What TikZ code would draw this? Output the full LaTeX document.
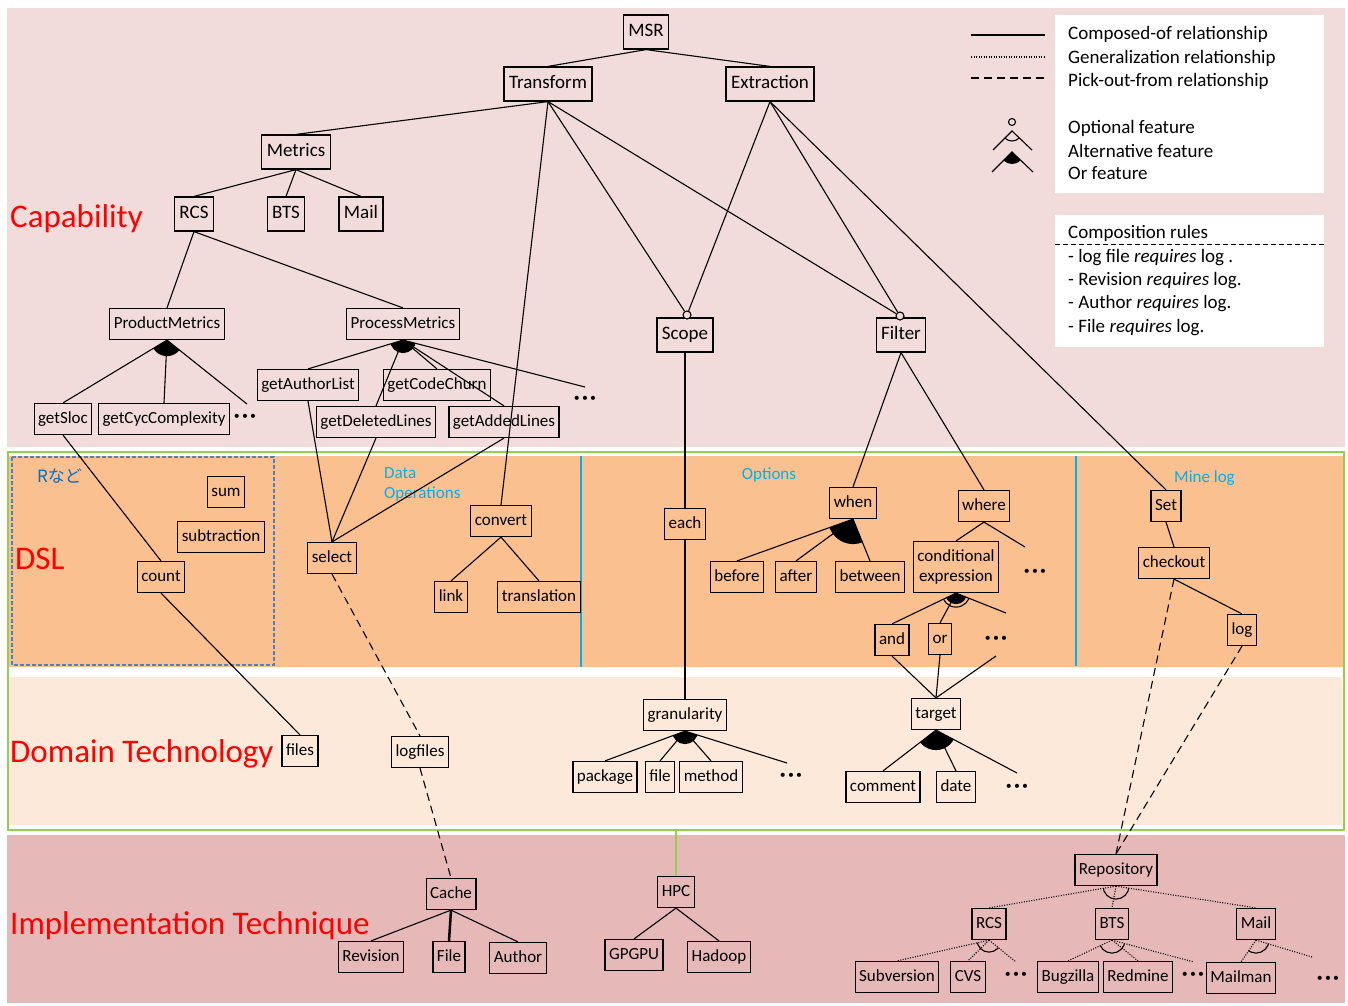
\documentclass[tikz,border=0pt]{standalone}
\usepackage{fontspec}
\setmainfont{Carlito}
\newfontfamily\jpfont{Noto Sans CJK JP}
\definecolor{capbg}{RGB}{242,220,219}
\definecolor{dslbg}{RGB}{250,192,144}
\definecolor{dombg}{RGB}{253,233,217}
\definecolor{impbg}{RGB}{230,185,184}
\definecolor{grn}{RGB}{146,208,80}
\definecolor{cyanc}{RGB}{0,176,240}
\definecolor{bluedash}{RGB}{79,129,189}
\definecolor{rblue}{RGB}{0,112,192}
\newcommand\orsector[4]{\begin{scope}\clip (#1) -- (#2) -- (#3) -- cycle; \fill (#1) circle[radius=#4]; \end{scope}}
\newcommand\altarc[4]{\begin{scope}\clip (#1) -- (#2) -- (#3) -- cycle; \draw[line width=1.1pt] (#1) circle[radius=#4]; \end{scope}}
\newcommand\threedots{\bfseries ·\hspace{2.2pt}·\hspace{2.2pt}·}
\tikzset{
 boxc/.style={draw, line width=1.2pt, inner ysep=0pt},
 big/.style={boxc, font=\fontsize{19}{22}\selectfont, inner xsep=5pt, minimum height=34pt, text height=13pt, text depth=4pt},
 sm/.style={boxc, font=\fontsize{17}{20}\selectfont, inner xsep=4pt, minimum height=31pt, text height=12pt, text depth=3.5pt},
 conn/.style={line width=1.1pt},
 pick/.style={line width=1.1pt, dash pattern=on 8pt off 5pt},
 gen/.style={line width=1.1pt, dash pattern=on 1pt off 1.5pt},
 dotsn/.style={font=\fontsize{22}{24}\selectfont, inner sep=0pt},
 redlab/.style={text=red, font=\fontsize{33}{36}\selectfont, anchor=base west, inner sep=0pt},
 cyanlab/.style={text=cyanc, font=\fontsize{17}{20}\selectfont, inner sep=0pt},
 legtext/.style={anchor=base west, inner sep=0pt, font=\fontsize{19}{22}\selectfont},
 optc/.style={circle, draw, line width=1.1pt, fill=capbg, inner sep=0pt, minimum size=8pt},
}
\begin{document}
\begin{tikzpicture}[x=1pt,y=-1pt]
\useasboundingbox (0,0) rectangle (1348,1005);
\fill[white] (0,0) rectangle (1348,1005);
% bands
\fill[capbg] (7,8) rectangle (1345,447);
\fill[dslbg] (9,456) rectangle (1343,667);
\fill[dombg] (9,677) rectangle (1342,825);
\fill[impbg] (7,835) rectangle (1345,1003);
\draw[grn, line width=2pt] (8,452) rectangle (1344,830);
\draw[bluedash, line width=1.3pt, dash pattern=on 4pt off 2pt] (12,457) rectangle (274,665);
\draw[cyanc, line width=1.6pt] (581,456) -- (581,667);
\draw[cyanc, line width=1.6pt] (1076,456) -- (1076,666);
% legend
\fill[white] (1055,15) rectangle (1324,193);
\fill[white] (1055,215) rectangle (1324,347);
\draw[line width=1pt, dash pattern=on 5pt off 3pt] (1055,244) -- (1324,244);
\coordinate (lsA) at (971,35); \coordinate (lsB) at (1045,35);
\coordinate (lgA) at (971,57); \coordinate (lgB) at (1045,57);
\coordinate (lpA) at (971,78); \coordinate (lpB) at (1045,78);
\draw[line width=1.6pt] (lsA) -- (lsB);
\draw[gen] (lgA) -- (lgB);
\draw[pick, line width=1.3pt] (lpA) -- (lpB);
\node[optc, minimum size=7pt] (lgopt) at (1012,122) {};
\coordinate (laA) at (1012,131); \coordinate (laL) at (993,150); \coordinate (laR) at (1032,150);
\draw[conn] (laL) -- (laA) -- (laR);
\altarc{laA}{laL}{laR}{10pt}
\coordinate (loA) at (1012,152); \coordinate (loL) at (992,172); \coordinate (loR) at (1033,172);
\draw[conn] (loL) -- (loA) -- (loR);
\orsector{loA}{loL}{loR}{12pt}
\node[legtext] at (1068,39) {Composed-of relationship};
\node[legtext] at (1068,63) {Generalization relationship};
\node[legtext] at (1068,86) {Pick-out-from relationship};
\node[legtext] at (1068,133) {Optional feature};
\node[legtext] at (1068,157) {Alternative feature};
\node[legtext] at (1068,179) {Or feature};
\node[legtext] at (1068,238) {Composition rules};
\node[legtext] at (1068,262) {- log file \textit{requires} log .};
\node[legtext] at (1068,285) {- Revision \textit{requires} log.};
\node[legtext] at (1068,308) {- Author \textit{requires} log.};
\node[legtext] at (1068,332) {- File \textit{requires} log.};
% band labels
\node[redlab] at (10,227) {Capability};
\node[redlab] at (15,569) {DSL};
\node[redlab] at (10,762) {Domain Technology};
\node[redlab] at (10,934) {Implementation Technique};
\node[anchor=base west, inner sep=0pt, text=rblue, font=\jpfont\fontsize{17}{20}\selectfont] at (37,482) {Rなど};
\node[cyanlab, anchor=north west, align=left] at (384,467) {Data\\Operations};
\node[cyanlab, anchor=base] at (769,479) {Options};
\node[cyanlab, anchor=base west] at (1174,482) {Mine log};
% nodes
\node[big] (msr) at (646,32) {MSR};
\node[big] (transform) at (548,84) {Transform};
\node[big] (extraction) at (770,84) {Extraction};
\node[big] (metrics) at (296,152) {Metrics};
\node[big] (rcs) at (194,214) {RCS};
\node[big] (bts) at (286,214) {BTS};
\node[big] (mail) at (361,214) {Mail};
\node[big] (scope) at (685,335) {Scope};
\node[big] (filter) at (901,335) {Filter};
\node[optc] (scopeopt) at (687,315) {};
\node[optc] (filteropt) at (900,316) {};
\node[sm] (prodm) at (167,324) {ProductMetrics};
\node[sm] (procm) at (403,324) {ProcessMetrics};
\node[sm] (getsloc) at (63,419) {getSloc};
\node[sm] (getcyc) at (164,419) {getCycComplexity};
\node[sm] (getauth) at (308,385) {getAuthorList};
\node[sm] (getchurn) at (437,385) {getCodeChurn};
\node[sm] (getdel) at (376,422) {getDeletedLines};
\node[sm] (getadd) at (504,422) {getAddedLines};
\node[sm] (sum) at (226,492) {sum};
\node[sm] (subtr) at (221,537) {subtraction};
\node[sm] (count) at (161,577) {count};
\node[sm] (select) at (332,558) {select};
\node[sm] (convert) at (501,521) {convert};
\node[sm] (link) at (451,597) {link};
\node[sm] (transl) at (539,597) {translation};
\node[sm] (each) at (685,524) {each};
\node[sm] (when) at (853,503) {when};
\node[sm] (where) at (984,506) {where};
\node[sm] (before) at (737,577) {before};
\node[sm] (after) at (796,577) {after};
\node[sm] (between) at (870,577) {between};
\node[boxc, font=\fontsize{17}{20}\selectfont, inner xsep=4pt, minimum height=51pt, align=center] (cond) at (956,567) {conditional\\expression};
\node[sm] (and) at (892,640) {and};
\node[sm] (or) at (940,639) {or};
\node[sm] (set) at (1166,506) {Set};
\node[sm] (checkout) at (1174,563) {checkout};
\node[sm] (log) at (1242,630) {log};
\node[sm] (files) at (300,751) {files};
\node[sm] (logfiles) at (420,752) {logfiles};
\node[sm] (gran) at (685,715) {granularity};
\node[sm] (package) at (605,777) {package};
\node[sm] (file) at (660,777) {file};
\node[sm] (method) at (711,777) {method};
\node[sm] (target) at (936,714) {target};
\node[sm] (comment) at (883,787) {comment};
\node[sm] (date) at (956,787) {date};
\node[sm] (cache) at (451,894) {Cache};
\node[sm] (revision) at (371,957) {Revision};
\node[sm] (filei) at (449,957) {File};
\node[sm] (author) at (518,958) {Author};
\node[sm] (hpc) at (676,892) {HPC};
\node[sm] (gpgpu) at (634,955) {GPGPU};
\node[sm] (hadoop) at (719,957) {Hadoop};
\node[sm] (repo) at (1116,870) {Repository};
\node[sm] (rcsi) at (989,924) {RCS};
\node[sm] (btsi) at (1112,924) {BTS};
\node[sm] (maili) at (1256,924) {Mail};
\node[sm] (subv) at (897,977) {Subversion};
\node[sm] (cvs) at (968,977) {CVS};
\node[sm] (bugz) at (1068,977) {Bugzilla};
\node[sm] (redm) at (1138,977) {Redmine};
\node[sm] (mailman) at (1241,978) {Mailman};
% dots
\node[dotsn] (d1) at (245,418) {\threedots};
\node[dotsn] (d2) at (585,400) {\threedots};
\node[dotsn] (d3) at (1035,573) {\threedots};
\node[dotsn] (d4) at (996,640) {\threedots};
\node[dotsn] (d5) at (791,777) {\threedots};
\node[dotsn] (d6) at (1017,788) {\threedots};
\node[dotsn] (d7) at (1016,976) {\threedots};
\node[dotsn] (d8) at (1193,976) {\threedots};
\node[dotsn] (d9) at (1328,980) {\threedots};
% free ends
\coordinate (pmend) at (247,404);
\coordinate (pcend) at (585,387);
\coordinate (whereend) at (1025,547);
\coordinate (condend) at (1006,613);
\coordinate (andend) at (996,656);
\coordinate (granend) at (787,763);
\coordinate (targetend) at (1017,773);
\coordinate (rcsiend) at (1016,962);
\coordinate (btsiend) at (1194,962);
\coordinate (mailiend) at (1312,957);
\coordinate (greentop) at (676,831);
% connectors
\draw[conn] (msr.south) -- (transform.north);
\draw[conn] (msr.south) -- (extraction.north);
\draw[conn] (transform.south) -- (metrics.north);
\draw[conn] (transform.south) -- (convert.north);
\draw[conn] (transform.south) -- (scopeopt);
\draw[conn] (transform.south) -- (filteropt);
\draw[conn] (extraction.south) -- (scopeopt);
\draw[conn] (extraction.south) -- (filteropt);
\draw[conn] (extraction.south) -- (set.north);
\draw[conn] (metrics.south) -- (rcs.north);
\draw[conn] (metrics.south) -- (bts.north);
\draw[conn] (metrics.south) -- (mail.north);
\draw[conn] (rcs.south) -- (prodm.north);
\draw[conn] (rcs.south) -- (procm.north);
\draw[conn] (prodm.south) -- (getsloc.north);
\draw[conn] (prodm.south) -- (getcyc.north);
\draw[conn] (prodm.south) -- (pmend);
\orsector{prodm.south}{getsloc.north}{pmend}{16pt}
\draw[conn] (procm.south) -- (getauth.north);
\draw[conn] (procm.south) -- (getdel.north);
\draw[conn] (procm.south) -- (getchurn.north);
\draw[conn] (procm.south) -- (getadd.north);
\draw[conn] (procm.south) -- (pcend);
\orsector{procm.south}{getauth.north}{pcend}{13pt}
\draw[conn] (getauth.south) -- (select.north);
\draw[conn] (getdel.south) -- (select.north);
\draw[conn] (getadd.south) -- (select.north);
\draw[conn] (getsloc.south) -- (count.north);
\draw[conn] (count.south) -- (files.north);
\draw[pick] (select.south) -- (logfiles.north);
\draw[pick] (logfiles.south) -- (cache.north);
\draw[conn] (convert.south) -- (link.north);
\draw[conn] (convert.south) -- (transl.north);
\draw[conn] (scope.south) -- (each.north);
\draw[line width=2.5pt] (each.south) -- (gran.north);
\draw[conn] (filter.south) -- (when.north);
\draw[conn] (filter.south) -- (where.north);
\draw[conn] (when.south) -- (before.north);
\draw[conn] (when.south) -- (after.north);
\draw[conn] (when.south) -- (between.north);
\orsector{when.south}{before.north}{between.north}{25pt}
\draw[conn] (where.south) -- (cond.north);
\draw[conn] (where.south) -- (whereend);
\draw[conn] (cond.south) -- (and.north);
\draw[conn] (cond.south) -- (or.north);
\draw[conn] (cond.south) -- (condend);
\orsector{cond.south}{and.north}{condend}{11pt}
\altarc{cond.south}{and.north}{condend}{14pt}
\draw[conn] (and.south) -- (target.north);
\draw[conn] (or.south) -- (target.north);
\draw[conn] (andend) -- (target.north);
\draw[conn] (target.south) -- (comment.north);
\draw[conn] (target.south) -- (date.north);
\draw[conn] (target.south) -- (targetend);
\orsector{target.south}{comment.north}{targetend}{20pt}
\draw[conn] (gran.south) -- (package.north);
\draw[conn] (gran.south) -- (file.north);
\draw[conn] (gran.south) -- (method.north);
\draw[conn] (gran.south) -- (granend);
\orsector{gran.south}{package.north}{granend}{13pt}
\draw[conn] (set.south) -- (checkout.north);
\draw[conn] (checkout.south) -- (log.north);
\draw[pick] (checkout.south) -- (repo.north);
\draw[pick] (log.south) -- (repo.north);
\draw[conn] (cache.south) -- (revision.north);
\draw[line width=2.5pt] (cache.south) -- (filei.north);
\draw[conn] (cache.south) -- (author.north);
\draw[conn] (hpc.south) -- (gpgpu.north);
\draw[conn] (hpc.south) -- (hadoop.north);
\draw[grn, line width=1.5pt] (greentop) -- (hpc.north);
\draw[gen] (repo.south) -- (rcsi.north);
\draw[gen] (repo.south) -- (btsi.north);
\draw[gen] (repo.south) -- (maili.north);
\altarc{repo.south}{rcsi.north}{maili.north}{13pt}
\draw[gen] (rcsi.south) -- (subv.north);
\draw[gen] (rcsi.south) -- (cvs.north);
\draw[gen] (rcsi.south) -- (rcsiend);
\altarc{rcsi.south}{subv.north}{rcsiend}{12pt}
\draw[gen] (btsi.south) -- (bugz.north);
\draw[gen] (btsi.south) -- (redm.north);
\draw[gen] (btsi.south) -- (btsiend);
\altarc{btsi.south}{bugz.north}{btsiend}{13pt}
\draw[gen] (maili.south) -- (mailman.north);
\draw[gen] (maili.south) -- (mailiend);
\altarc{maili.south}{mailman.north}{mailiend}{13pt}
\end{tikzpicture}
\end{document}
